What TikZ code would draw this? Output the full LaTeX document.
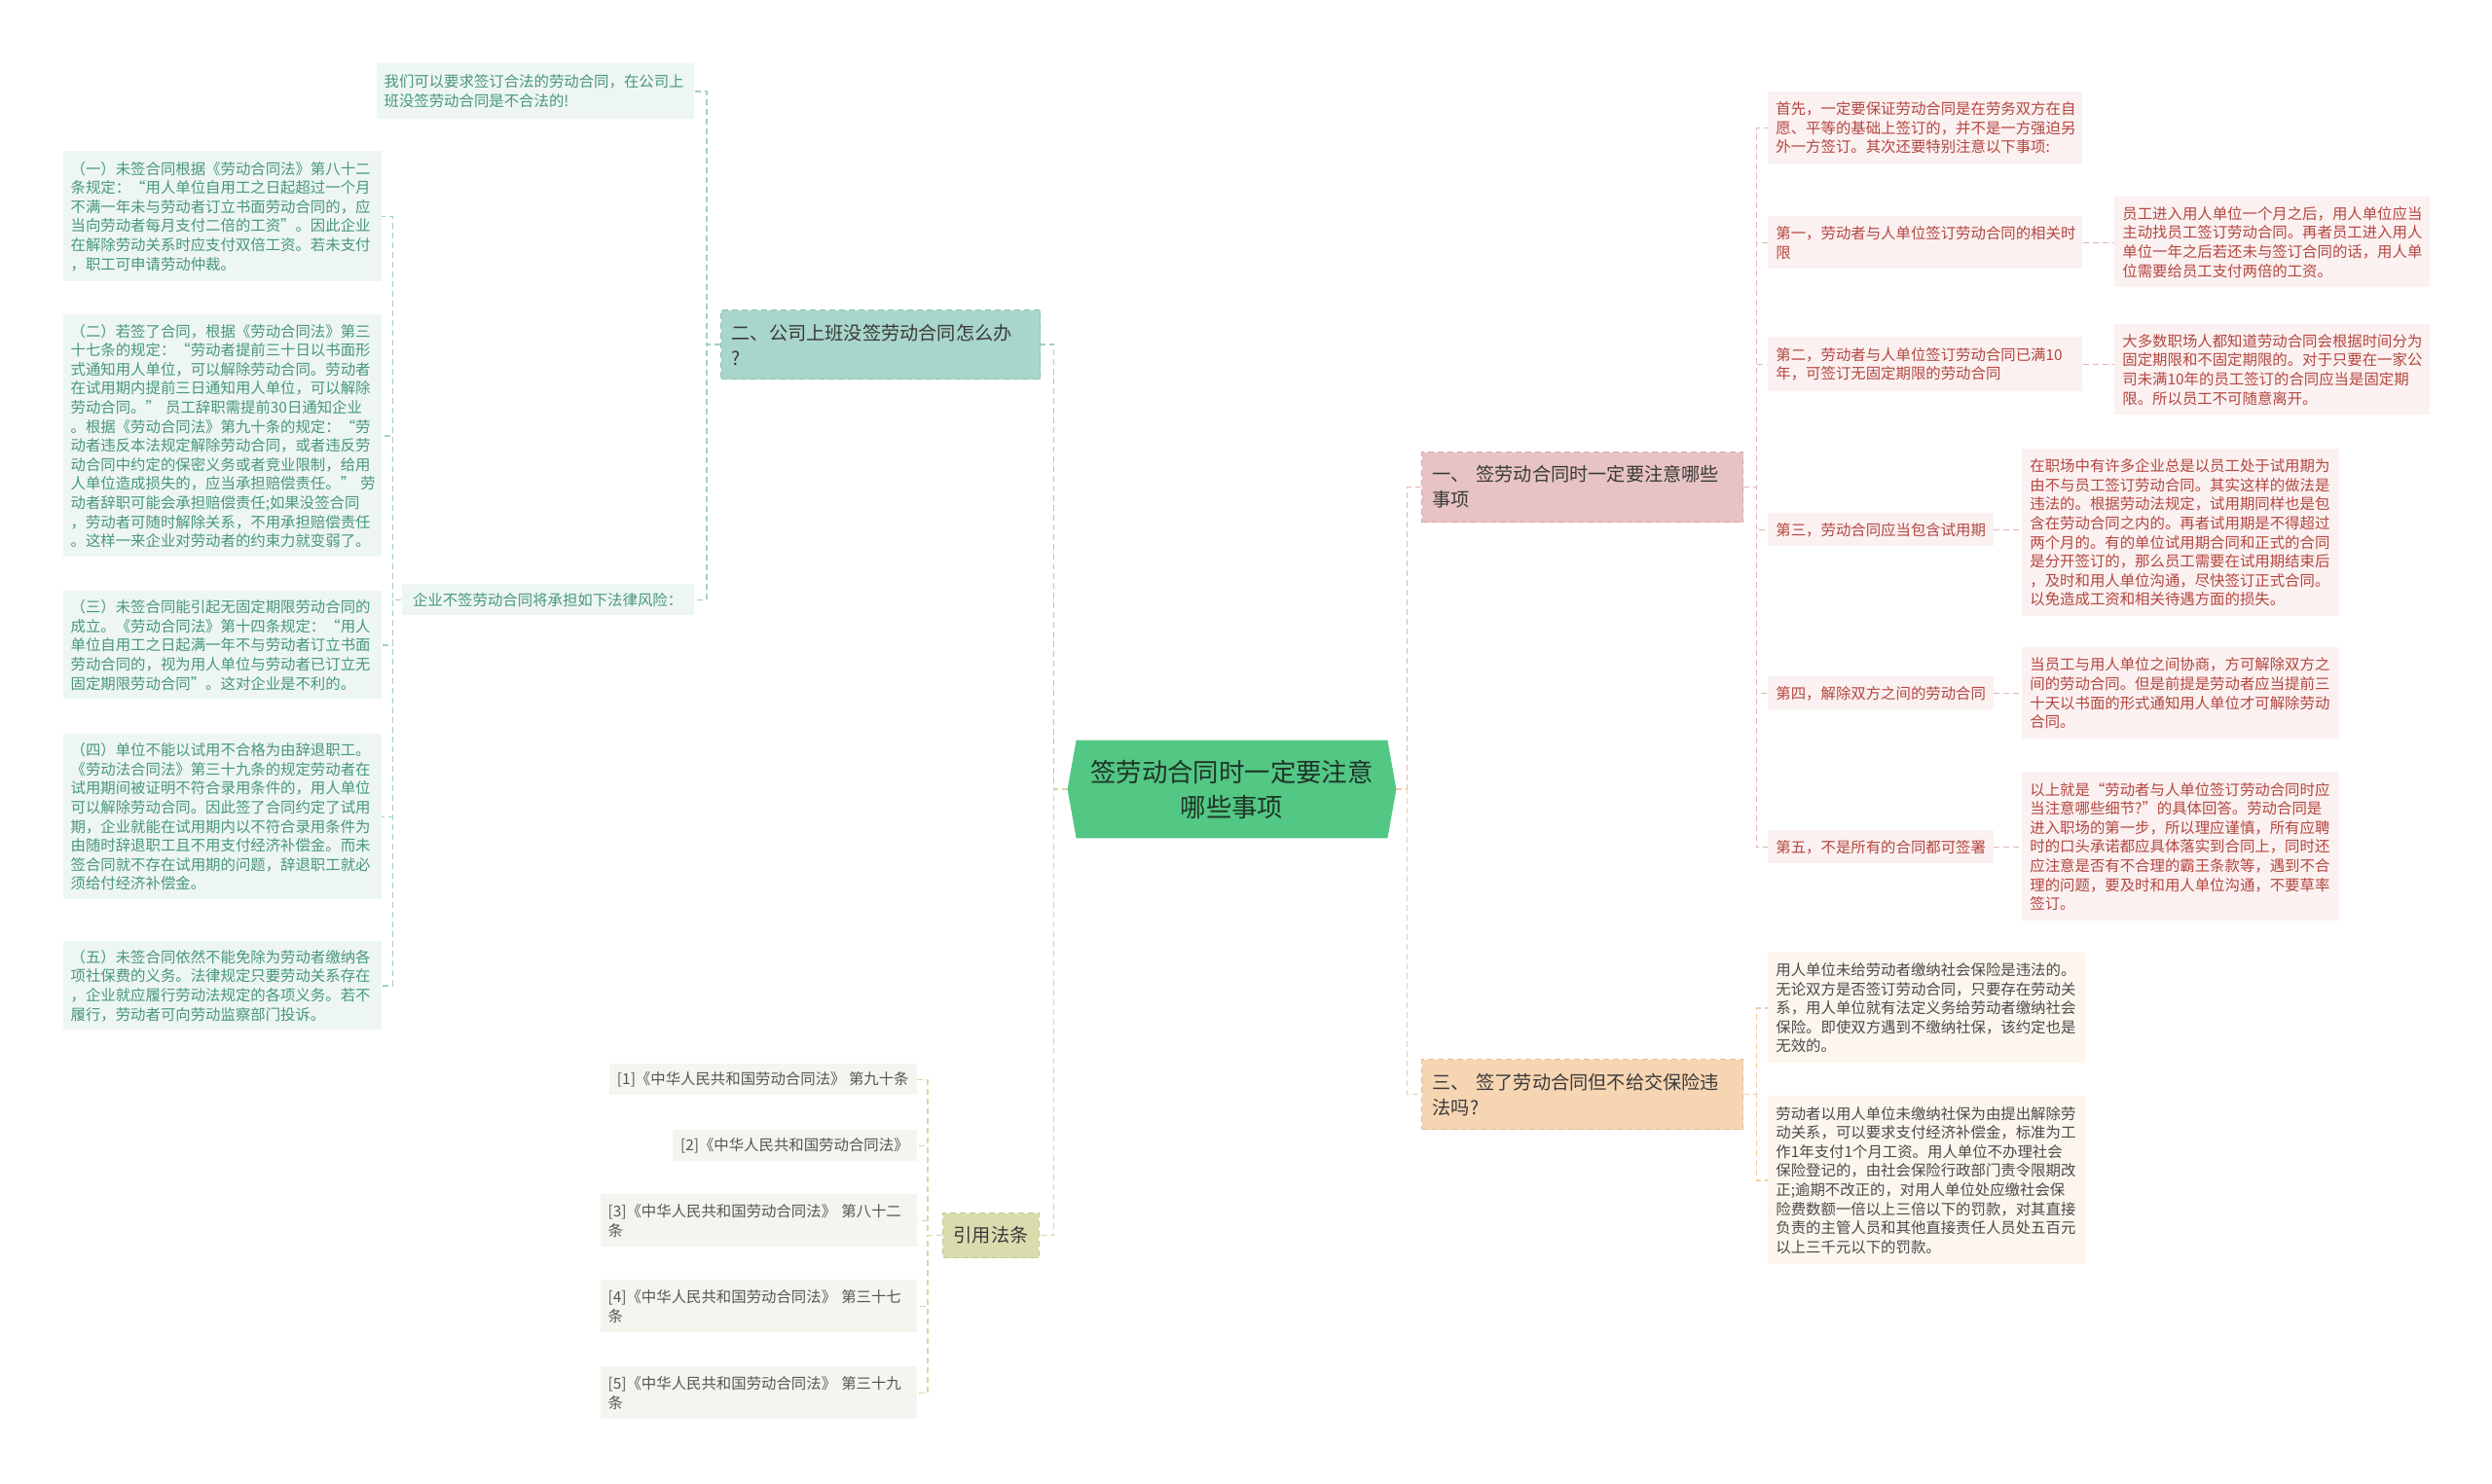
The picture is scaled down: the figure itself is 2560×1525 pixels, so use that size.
\documentclass[tikz,border=0pt]{standalone}
\usepackage{fontspec}
\setmainfont{Noto Sans CJK SC}
\usetikzlibrary{backgrounds}
\definecolor{tealbg}{HTML}{EEF6F3}
\definecolor{tealtx}{HTML}{47977C}
\definecolor{tealln}{HTML}{A3D0C4}
\definecolor{tealbr}{HTML}{A9D6CA}
\definecolor{tealbd}{HTML}{8DC2B4}
\definecolor{pinkbg}{HTML}{FBF1F1}
\definecolor{pinktx}{HTML}{B4463F}
\definecolor{pinkln}{HTML}{E3B5B5}
\definecolor{pinkbr}{HTML}{E8C3C3}
\definecolor{pinkbd}{HTML}{D9A9A9}
\definecolor{peachbg}{HTML}{FDF6EE}
\definecolor{peachtx}{HTML}{4A4A4A}
\definecolor{peachln}{HTML}{F0CDA8}
\definecolor{peachbr}{HTML}{F6D5B3}
\definecolor{peachbd}{HTML}{E8BF98}
\definecolor{refbg}{HTML}{F5F5EF}
\definecolor{reftx}{HTML}{555555}
\definecolor{oliveln}{HTML}{D5D8A8}
\definecolor{olivebr}{HTML}{D9DDAE}
\definecolor{olivebd}{HTML}{C4C894}
\definecolor{cgreen}{HTML}{53C784}
\definecolor{ctext}{HTML}{1F3427}
\definecolor{brtx}{HTML}{3A3A3A}
\begin{document}
\begin{tikzpicture}[x=0.5pt,y=-0.5pt,
  conn/.style={dash pattern=on 3pt off 2pt, line width=0.7pt},
  leaf/.style={inner xsep=4pt, inner ysep=0pt, align=left, font=\fontsize{7.7pt}{9.8pt}\selectfont},
  leafT/.style={leaf, fill=tealbg, text=tealtx, anchor=north east},
  leafR/.style={leaf, fill=pinkbg, text=pinktx, anchor=north west},
  leafP/.style={leaf, fill=peachbg, text=peachtx, anchor=north west},
  leafF/.style={leaf, fill=refbg, text=reftx, anchor=north east},
  branch/.style={inner xsep=5.5pt, inner ysep=0pt, align=left, font=\fontsize{9.6pt}{13pt}\selectfont, text=brtx, dash pattern=on 3pt off 2pt, line width=0.6pt, draw, anchor=north west},
]
\useasboundingbox (0,0) rectangle (2560,1525);

% central topic
\node[font=\fontsize{13.2pt}{18pt}\selectfont, text=ctext, align=center, minimum width=159.5pt, minimum height=50pt, inner sep=0pt] (C) at (1265.5,811) {签劳动合同时一定要注意\\哪些事项};
\begin{pgfonlayer}{background}
\fill[white] (0,0) rectangle (2560,1525);
\fill[cgreen] (C.north west) -- (C.north east) -- ([xshift=4.5pt]C.east) -- (C.south east) -- (C.south west) -- ([xshift=-4.5pt]C.west) -- cycle;
\end{pgfonlayer}

% main branches
\node[branch, fill=tealbr, draw=tealbd, text width=153pt, minimum height=35.5pt] (B2) at (740,318) {二、公司上班没签劳动合同怎么办\\?};
\node[branch, fill=pinkbr, draw=pinkbd, text width=154pt, minimum height=36pt] (B1) at (1460,464) {一、 签劳动合同时一定要注意哪些\\事项};
\node[branch, fill=peachbr, draw=peachbd, text width=154pt, minimum height=36pt] (B3) at (1460,1088) {三、 签了劳动合同但不给交保险违\\法吗?};
\node[branch, fill=olivebr, draw=olivebd, minimum height=23pt] (BF) at (968,1246) {引用法条};

% left side (teal)
\node[leafT, text width=155pt, minimum height=28.5pt] (L0) at (713,65) {我们可以要求签订合法的劳动合同，在公司上\\班没签劳动合同是不合法的!};
\node[leafT, minimum width=150pt, minimum height=16pt] (Lq) at (713,600) {企业不签劳动合同将承担如下法律风险：};
\node[leafT, text width=155.5pt, minimum height=67pt] (L1) at (392,155) {（一）未签合同根据《劳动合同法》第八十二\\条规定：“用人单位自用工之日起超过一个月\\不满一年未与劳动者订立书面劳动合同的，应\\当向劳动者每月支付二倍的工资”。因此企业\\在解除劳动关系时应支付双倍工资。若未支付\\，职工可申请劳动仲裁。};
\node[leafT, text width=155.5pt, minimum height=124.5pt] (L2) at (392,323) {（二）若签了合同，根据《劳动合同法》第三\\十七条的规定：“劳动者提前三十日以书面形\\式通知用人单位，可以解除劳动合同。劳动者\\在试用期内提前三日通知用人单位，可以解除\\劳动合同。”~员工辞职需提前30日通知企业\\。根据《劳动合同法》第九十条的规定：“劳\\动者违反本法规定解除劳动合同，或者违反劳\\动合同中约定的保密义务或者竞业限制，给用\\人单位造成损失的，应当承担赔偿责任。”~劳\\动者辞职可能会承担赔偿责任;如果没签合同\\，劳动者可随时解除关系，不用承担赔偿责任\\。这样一来企业对劳动者的约束力就变弱了。};
\node[leafT, text width=155.5pt, minimum height=55.5pt] (L3) at (392,607) {（三）未签合同能引起无固定期限劳动合同的\\成立。《劳动合同法》第十四条规定：“用人\\单位自用工之日起满一年不与劳动者订立书面\\劳动合同的，视为用人单位与劳动者已订立无\\固定期限劳动合同”。这对企业是不利的。};
\node[leafT, text width=155.5pt, minimum height=85pt] (L4) at (392,754) {（四）单位不能以试用不合格为由辞退职工。\\《劳动法合同法》第三十九条的规定劳动者在\\试用期间被证明不符合录用条件的，用人单位\\可以解除劳动合同。因此签了合同约定了试用\\期，企业就能在试用期内以不符合录用条件为\\由随时辞退职工且不用支付经济补偿金。而未\\签合同就不存在试用期的问题，辞退职工就必\\须给付经济补偿金。};
\node[leafT, text width=155.5pt, minimum height=45.5pt] (L5) at (392,967) {（五）未签合同依然不能免除为劳动者缴纳各\\项社保费的义务。法律规定只要劳动关系存在\\，企业就应履行劳动法规定的各项义务。若不\\履行，劳动者可向劳动监察部门投诉。};

% references
\node[leafF, minimum height=16pt] (F1) at (942,1093) {[1]《中华人民共和国劳动合同法》~第九十条};
\node[leafF, minimum height=16pt] (F2) at (942,1161) {[2]《中华人民共和国劳动合同法》};
\node[leafF, text width=154.5pt, minimum height=27pt] (F3) at (942,1227) {[3]《中华人民共和国劳动合同法》~第八十二\\条};
\node[leafF, text width=154.5pt, minimum height=27pt] (F4) at (942,1315) {[4]《中华人民共和国劳动合同法》~第三十七\\条};
\node[leafF, text width=154.5pt, minimum height=27pt] (F5) at (942,1404) {[5]《中华人民共和国劳动合同法》~第三十九\\条};

% right side (pink)
\node[leafR, text width=153.5pt, minimum height=37pt] (R0) at (1816,94) {首先，一定要保证劳动合同是在劳务双方在自\\愿、平等的基础上签订的，并不是一方强迫另\\外一方签订。其次还要特别注意以下事项:};
\node[leafR, text width=153.5pt, minimum height=27pt] (R1) at (1816,222) {第一，劳动者与人单位签订劳动合同的相关时\\限};
\node[leafR, text width=153.5pt, minimum height=28pt] (R2) at (1816,346) {第二，劳动者与人单位签订劳动合同已满10\\年，可签订无固定期限的劳动合同};
\node[leafR, minimum height=17pt] (R3) at (1816,527) {第三，劳动合同应当包含试用期};
\node[leafR, minimum height=17pt] (R4) at (1816,695) {第四，解除双方之间的劳动合同};
\node[leafR, minimum height=17pt] (R5) at (1816,853) {第五，不是所有的合同都可签署};

\node[leafR, text width=154pt, minimum height=46.5pt] (D1) at (2172,202) {员工进入用人单位一个月之后，用人单位应当\\主动找员工签订劳动合同。再者员工进入用人\\单位一年之后若还未与签订合同的话，用人单\\位需要给员工支付两倍的工资。};
\node[leafR, text width=154pt, minimum height=46.5pt] (D2) at (2172,333) {大多数职场人都知道劳动合同会根据时间分为\\固定期限和不固定期限的。对于只要在一家公\\司未满10年的员工签订的合同应当是固定期\\限。所以员工不可随意离开。};
\node[leafR, text width=155pt, minimum height=86pt] (D3) at (2077,461) {在职场中有许多企业总是以员工处于试用期为\\由不与员工签订劳动合同。其实这样的做法是\\违法的。根据劳动法规定，试用期同样也是包\\含在劳动合同之内的。再者试用期是不得超过\\两个月的。有的单位试用期合同和正式的合同\\是分开签订的，那么员工需要在试用期结束后\\，及时和用人单位沟通，尽快签订正式合同。\\以免造成工资和相关待遇方面的损失。};
\node[leafR, text width=155pt, minimum height=47pt] (D4) at (2077,665) {当员工与用人单位之间协商，方可解除双方之\\间的劳动合同。但是前提是劳动者应当提前三\\十天以书面的形式通知用人单位才可解除劳动\\合同。};
\node[leafR, text width=155pt, minimum height=76.5pt] (D5) at (2077,793) {以上就是“劳动者与人单位签订劳动合同时应\\当注意哪些细节?”的具体回答。劳动合同是\\进入职场的第一步，所以理应谨慎，所有应聘\\时的口头承诺都应具体落实到合同上，同时还\\应注意是否有不合理的霸王条款等，遇到不合\\理的问题，要及时和用人单位沟通，不要草率\\签订。};

% right side (peach)
\node[leafP, text width=155pt, minimum height=56.5pt] (P1) at (1816,979) {用人单位未给劳动者缴纳社会保险是违法的。\\无论双方是否签订劳动合同，只要存在劳动关\\系，用人单位就有法定义务给劳动者缴纳社会\\保险。即使双方遇到不缴纳社保，该约定也是\\无效的。};
\node[leafP, text width=155pt, minimum height=86.5pt] (P2) at (1816,1126) {劳动者以用人单位未缴纳社保为由提出解除劳\\动关系，可以要求支付经济补偿金，标准为工\\作1年支付1个月工资。用人单位不办理社会\\保险登记的，由社会保险行政部门责令限期改\\正;逾期不改正的，对用人单位处应缴社会保\\险费数额一倍以上三倍以下的罚款，对其直接\\负责的主管人员和其他直接责任人员处五百元\\以上三千元以下的罚款。};

% connectors
\draw[conn, tealln] ([xshift=-4.5pt]C.west) -- ++(-14,0) |- (B2.east);
\draw[conn, oliveln] ([xshift=-4.5pt]C.west) -- ++(-14,0) |- (BF.east);
\draw[conn, pinkln] ([xshift=4.5pt]C.east) -- ++(11,0) |- (B1.west);
\draw[conn, peachln] ([xshift=4.5pt]C.east) -- ++(11,0) |- (B3.west);

\foreach \n in {L0,Lq} \draw[conn, tealln] (B2.west) -- ++(-14,0) |- (\n.east);
\foreach \n in {L1,L2,L3,L4,L5} \draw[conn, tealln] (Lq.west) -- ++(-9,0) |- (\n.east);
\foreach \n in {F1,F2,F3,F4,F5} \draw[conn, oliveln] (BF.west) -- ++(-15,0) |- (\n.east);
\foreach \n in {R0,R1,R2,R3,R4,R5} \draw[conn, pinkln] (B1.east) -- ++(13,0) |- (\n.west);
\foreach \a/\b in {R1/D1,R2/D2,R3/D3,R4/D4,R5/D5} \draw[conn, pinkln] (\a.east) -- (\a.east -| \b.west);
\foreach \n in {P1,P2} \draw[conn, peachln] (B3.east) -- ++(13,0) |- (\n.west);
\end{tikzpicture}
\end{document}
